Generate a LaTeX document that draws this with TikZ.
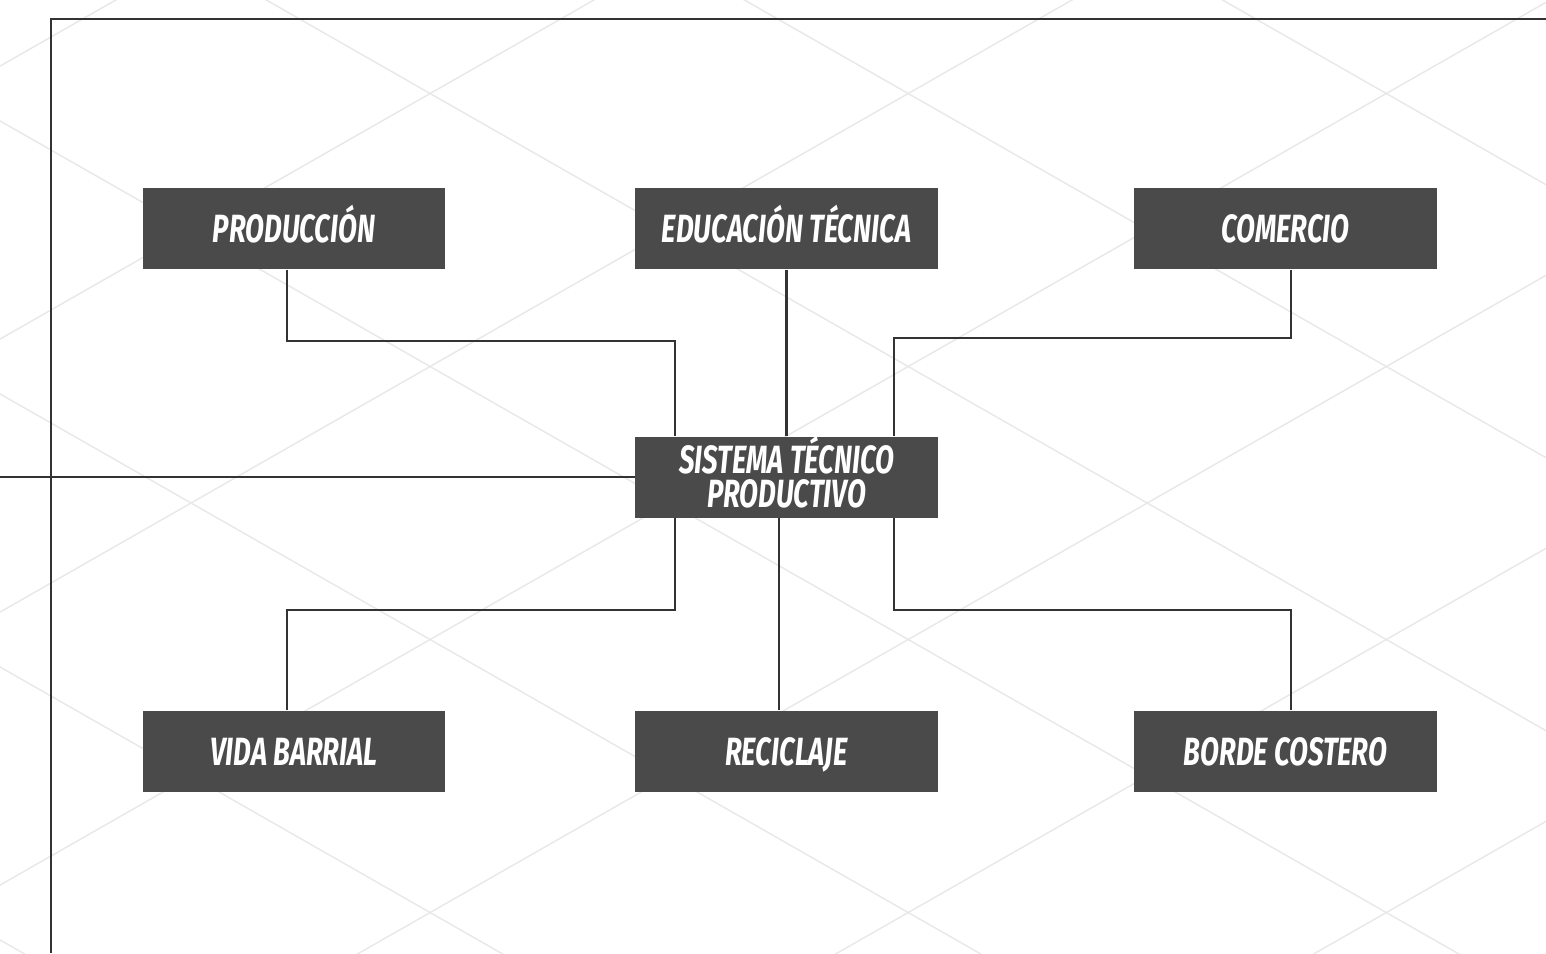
\documentclass[tikz,border=0pt]{standalone}
\usepackage{fontspec}
\usepackage{tikz}
\usetikzlibrary{calc, positioning}
\newfontfamily\cajafont[FakeStretch=0.70]{Fira Sans}
\definecolor{cajagris}{RGB}{74,74,74}
\definecolor{lineagris}{RGB}{51,51,51}
\definecolor{rejilla}{RGB}{232,232,232}

\begin{document}
\begin{tikzpicture}[x=0.01cm, y=-0.01cm,
    caja/.style={fill=cajagris, text=white, minimum width=3.02cm, minimum height=0.81cm,
        inner sep=0pt, align=center,
        font=\fontsize{11.2pt}{9.6pt}\cajafont\bfseries\itshape\selectfont},
    una/.style={text height=0.27cm, text depth=0pt},
    dos/.style={text height=0.60cm, text depth=0pt},
    enlace/.style={draw=lineagris, line width=0.6pt},
    marco/.style={draw=lineagris, line width=0.8pt}]
    % 1. Fondo y rejilla isométrica
    \useasboundingbox (0,0) rectangle (1546,953);
    \clip (0,0) rectangle (1546,953);
    \fill[white] (0,0) rectangle (1546,953);
    \foreach \k in {-4,...,2}
        \draw[rejilla, line width=0.4pt] (0,{393.9+273*\k}) -- (1546,{1276.7+273*\k});
    \foreach \k in {-2,...,4}
        \draw[rejilla, line width=0.4pt] (0,{612.1+273*\k}) -- (1546,{-270.7+273*\k});

    % 2. Marco
    \draw[marco] (1546,19) -- (51,19) -- (51,953);

    % 3. Cajas
    \node[caja, una] (prod) at (294,228.5) {PRODUCCIÓN};
    \node[caja, una] (edu) at (786.5,228.5) {EDUCACIÓN TÉCNICA};
    \node[caja, una] (com) at (1285.5,228.5) {COMERCIO};
    \node[caja, dos] (sistema) at (786.5,477) {SISTEMA TÉCNICO\\PRODUCTIVO};
    \node[caja, una] (vida) at (294,751.5) {VIDA BARRIAL};
    \node[caja, una] (recic) at (786.5,751.5) {RECICLAJE};
    \node[caja, una] (borde) at (1285.5,751.5) {BORDE COSTERO};

    % 4. Puntos de quiebre
    \coordinate (izq) at (0,477);
    \coordinate (k0) at (287,341);
    \coordinate (k1) at (675,341);
    \coordinate (k2) at (1291,338);
    \coordinate (k3) at (894,338);
    \coordinate (k4) at (675,610);
    \coordinate (k5) at (287,610);
    \coordinate (k6) at (779,610);
    \coordinate (k7) at (894,610);
    \coordinate (k8) at (1291,610);

    % 5. Enlaces
    \draw[enlace] (izq) -- (sistema.west);
    \draw[enlace] (prod.south -| k0) -- (k0) -- (k1) -- (sistema.north -| k1);
    \draw[enlace] (edu.south) -- (sistema.north);
    \draw[enlace] (com.south -| k2) -- (k2) -- (k3) -- (sistema.north -| k3);
    \draw[enlace] (sistema.south -| k4) -- (k4) -- (k5) -- (vida.north -| k5);
    \draw[enlace] (sistema.south -| k6) -- (recic.north -| k6);
    \draw[enlace] (sistema.south -| k7) -- (k7) -- (k8) -- (borde.north -| k8);

\end{tikzpicture}
\end{document}
